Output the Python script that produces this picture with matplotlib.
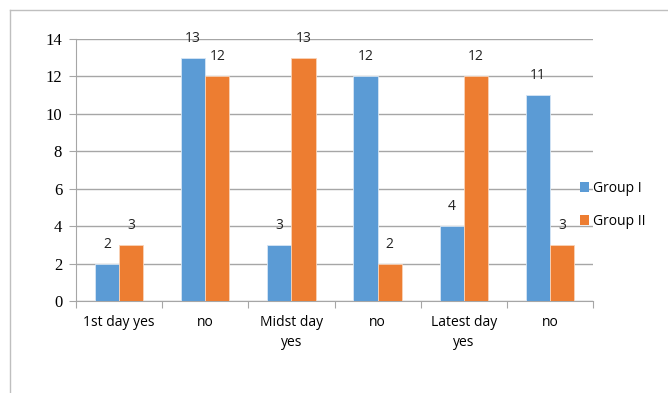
import numpy as np
import matplotlib.pyplot as plt
from matplotlib.lines import Line2D
from matplotlib.patches import Patch

# Data
categories = ['1st day yes', 'no', 'Midst day\nyes', 'no', 'Latest day\nyes', 'no']
group1 = [2, 13, 3, 12, 4, 11]
group2 = [3, 12, 13, 2, 12, 3]
series_names = ['Group I', 'Group II']

blue = '#5B9BD5'
orange = '#ED7D31'
grid_col = '#A6A6A6'

fig = plt.figure(figsize=(6.68, 3.93), dpi=100)
ax = fig.add_axes([0.1138, 0.234, 0.7739, 0.6668])

x = np.arange(len(categories))
w = 0.28
b1 = ax.bar(x - w / 2, group1, w, color=blue, edgecolor='#D6E6F5', linewidth=0.6, zorder=3)
b2 = ax.bar(x + w / 2, group2, w, color=orange, edgecolor='#F9D3B8', linewidth=0.6, zorder=3)

# value labels above bars
for bars in (b1, b2):
    for r in bars:
        ax.annotate(str(int(r.get_height())), (r.get_x() + r.get_width() / 2, r.get_height()),
                    xytext=(0, 14), textcoords='offset points', ha='center', va='center',
                    fontsize=10, family='Open Sans', color='#222222', zorder=4)

ax.set_xlim(-0.5, len(categories) - 0.5)
ax.set_ylim(0, 14)
ax.set_yticks(range(0, 15, 2))
ax.yaxis.grid(True, color=grid_col, linewidth=1, zorder=0)

for lbl in ax.get_yticklabels():
    lbl.set_family('Liberation Serif')
    lbl.set_fontsize(12)
ax.tick_params(axis='y', length=5, color=grid_col, pad=5)

# category labels between boundary ticks
ax.set_xticks(np.arange(-0.5, len(categories), 1))
ax.set_xticklabels([])
ax.set_xticks(x, minor=True)
ax.set_xticklabels(categories, minor=True, family='Open Sans', fontsize=10, linespacing=1.5, va='top')
ax.tick_params(axis='x', which='major', length=5, color=grid_col)
ax.tick_params(axis='x', which='minor', length=0, pad=10)

for s in ['top', 'right']:
    ax.spines[s].set_visible(False)
ax.spines['left'].set_color(grid_col)
ax.spines['bottom'].set_color(grid_col)

# legend
handles = [Patch(facecolor=blue), Patch(facecolor=orange)]
fig.legend(handles, series_names, loc='upper left', bbox_to_anchor=(0.853, 0.564),
           frameon=False, handlelength=0.7, handleheight=0.7, handletextpad=0.25,
           labelspacing=1.3, borderpad=0.2, prop={'family': 'Open Sans', 'size': 10})

# outer border (partially cropped)
fig.add_artist(Line2D([0.015, 1.0], [0.9746, 0.9746], color='#BFBFBF', linewidth=1))
fig.add_artist(Line2D([0.015, 0.015], [0.0, 0.9746], color='#BFBFBF', linewidth=1))

fig.savefig('out.png', dpi=100)
